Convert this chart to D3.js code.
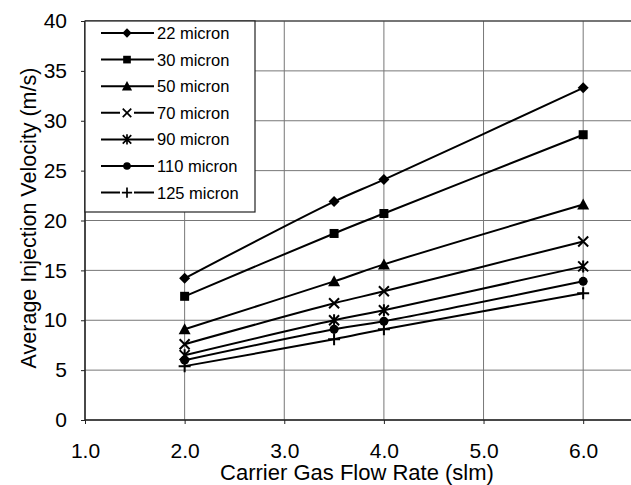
<!DOCTYPE html>
<html>
<head>
<meta charset="utf-8">
<script src="https://cdn.jsdelivr.net/npm/d3@7"></script>
<style>
  body { margin: 0; background: #fff; }
  text { font-family: "Liberation Sans", Arial, sans-serif; fill: #000; }
</style>
</head>
<body>
<div id="chart"></div>
<script>
// data
var flowRates = [2.0, 3.5, 4.0, 6.0];
var xTicks = [1, 2, 3, 4, 5, 6];
var yTicks = [0, 5, 10, 15, 20, 25, 30, 35, 40];
var seriesNames = ["22 micron", "30 micron", "50 micron", "70 micron", "90 micron", "110 micron", "125 micron"];
var v22 = [14.2, 21.9, 24.1, 33.3];
var v30 = [12.4, 18.7, 20.7, 28.6];
var v50 = [9.1, 13.9, 15.6, 21.6];
var v70 = [7.6, 11.7, 12.9, 17.9];
var v90 = [6.5, 10.0, 11.0, 15.4];
var v110 = [6.0, 9.1, 9.9, 13.9];
var v125 = [5.4, 8.1, 9.1, 12.7];
var markerTypes = ["diamond", "square", "triangle", "x", "asterisk", "circle", "plus"];

var series = [v22, v30, v50, v70, v90, v110, v125].map(function(vals, i) {
  return { name: seriesNames[i], marker: markerTypes[i],
    points: vals.map(function(v, j) { return { x: flowRates[j], y: v }; }) };
});

var margin = { top: 21, left: 85, right: 0, bottom: 65 },
  width = 631 - margin.left - margin.right,
  height = 485 - margin.top - margin.bottom;

var svg = d3.select("#chart").append("svg")
  .attr("width", 631).attr("height", 485)
  .append("g")
  .attr("transform", "translate(" + margin.left + "," + margin.top + ")");

var x = d3.scaleLinear().domain([1, 6.48]).range([0, width]);
var y = d3.scaleLinear().domain([0, 40]).range([height, 0]);

// grid
svg.selectAll(".hgrid").data(yTicks).enter().append("line")
  .attr("x1", 0).attr("x2", width)
  .attr("y1", function(d) { return y(d); }).attr("y2", function(d) { return y(d); })
  .attr("stroke", "#777").attr("stroke-width", 1);
svg.selectAll(".vgrid").data(xTicks).enter().append("line")
  .attr("x1", function(d) { return x(d); }).attr("x2", function(d) { return x(d); })
  .attr("y1", 0).attr("y2", height)
  .attr("stroke", "#777").attr("stroke-width", 1);
svg.append("line").attr("x1", 0).attr("x2", 0).attr("y1", 0).attr("y2", height)
  .attr("stroke", "#222").attr("stroke-width", 1.5);
svg.append("line").attr("x1", 0).attr("x2", width).attr("y1", height).attr("y2", height)
  .attr("stroke", "#222").attr("stroke-width", 1.5);
svg.append("line").attr("x1", 0).attr("x2", width).attr("y1", 0).attr("y2", 0)
  .attr("stroke", "#333").attr("stroke-width", 1.2);

// axes
var yAxis = svg.append("g").call(d3.axisLeft(y).tickValues(yTicks).tickSize(4).tickPadding(14));
var xAxis = svg.append("g").attr("transform", "translate(0," + height + ")")
  .call(d3.axisBottom(x).tickValues(xTicks).tickFormat(d3.format(".1f")).tickSize(4).tickPadding(19));
[yAxis, xAxis].forEach(function(a) {
  a.select(".domain").remove();
  a.selectAll("text").style("font-size", "21px");
  a.selectAll(".tick line").attr("stroke", "#222");
});

svg.append("text")
  .attr("transform", "translate(" + (36 - margin.left) + "," + (218 - margin.top) + ") rotate(-90)")
  .attr("text-anchor", "middle")
  .style("font-size", "21.5px")
  .text("Average Injection Velocity (m/s)");
svg.append("text")
  .attr("x", x(3.73)).attr("y", height + 60)
  .attr("text-anchor", "middle")
  .style("font-size", "22px")
  .text("Carrier Gas Flow Rate (slm)");

// marker drawing
function drawMarker(g, type, k) {
  k = k || 1;
  if (type == "diamond") {
    g.append("path").attr("d", "M0,-5.5L5.5,0L0,5.5L-5.5,0Z").attr("fill", "#000")
      .attr("transform", "scale(" + k + ")");
  } else if (type == "square") {
    g.append("rect").attr("x", -4.5 * k).attr("y", -4.5 * k).attr("width", 9 * k).attr("height", 9 * k).attr("fill", "#000");
  } else if (type == "triangle") {
    g.append("path").attr("d", "M0,-6L6,5L-6,5Z").attr("fill", "#000")
      .attr("transform", "scale(" + k + ")");
  } else if (type == "x") {
    g.append("path").attr("d", "M-5,-5L5,5M-5,5L5,-5").attr("stroke", "#000").attr("stroke-width", 2)
      .attr("transform", "scale(" + k + ")");
  } else if (type == "asterisk") {
    g.append("path").attr("d", "M-5,-5L5,5M-5,5L5,-5M0,-6L0,6").attr("stroke", "#000").attr("stroke-width", 2)
      .attr("transform", "scale(" + k + ")");
  } else if (type == "circle") {
    g.append("circle").attr("r", 4.5 * k).attr("fill", "#000");
  } else if (type == "plus") {
    g.append("path").attr("d", "M-6,0L6,0M0,-6L0,6").attr("stroke", "#000").attr("stroke-width", 2)
      .attr("transform", "scale(" + k + ")");
  }
}

var line = d3.line()
  .x(function(d) { return x(d.x); })
  .y(function(d) { return y(d.y); })
  .curve(d3.curveCatmullRom.alpha(0.5));

series.forEach(function(s) {
  svg.append("path").datum(s.points)
    .attr("d", line).attr("fill", "none")
    .attr("stroke", "#000").attr("stroke-width", 2);
  s.points.forEach(function(p) {
    var g = svg.append("g").attr("transform", "translate(" + x(p.x) + "," + y(p.y) + ")");
    drawMarker(g, s.marker);
  });
});

// legend
var legend = svg.append("g");
legend.append("rect").attr("x", 0).attr("y", 0).attr("width", 170).attr("height", 191)
  .attr("fill", "#fff").attr("stroke", "#222").attr("stroke-width", 1.2);
series.forEach(function(s, i) {
  var ly = 12 + i * 26.6;
  var g = legend.append("g").attr("transform", "translate(0," + ly + ")");
  g.append("line").attr("x1", 16).attr("x2", 69).attr("y1", 0).attr("y2", 0)
    .attr("stroke", "#000").attr("stroke-width", 2);
  var m = g.append("g").attr("transform", "translate(42,0)");
  if (s.marker == "x" || s.marker == "plus") {
    m.insert("rect").attr("x", -7).attr("y", -7).attr("width", 14).attr("height", 14).attr("fill", "#fff");
  }
  drawMarker(m, s.marker, 0.85);
  g.append("text").attr("x", 72).attr("y", 6).style("font-size", "16.5px").text(s.name);
});
</script>
</body>
</html>
